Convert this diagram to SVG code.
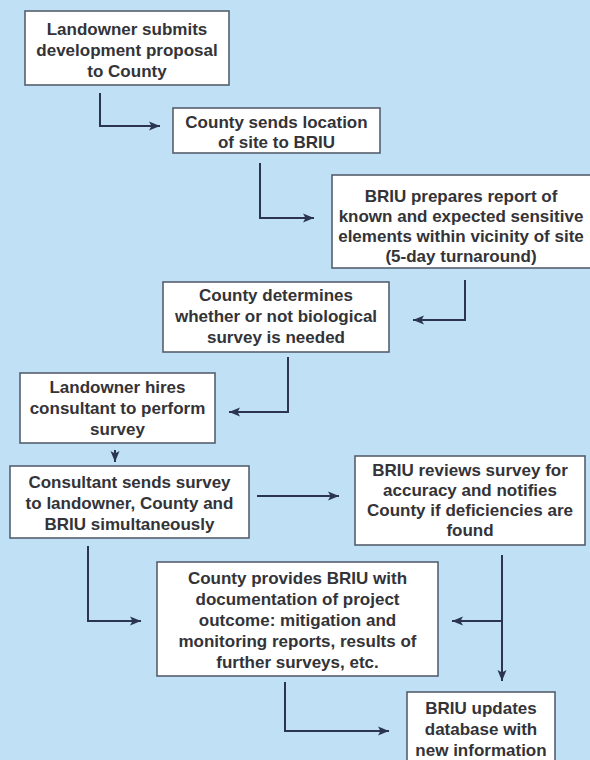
<svg xmlns="http://www.w3.org/2000/svg" width="590" height="760" viewBox="0 0 590 760">
<style>
.box{fill:#ffffff;stroke:#555f6e;stroke-width:1.6}
.t{font-family:"Liberation Sans",Arial,sans-serif;font-weight:bold;font-size:17px;fill:#333338;text-anchor:middle}
.c{fill:none;stroke:#2b3552;stroke-width:2}
</style>
<defs>
<marker id="ah" markerUnits="userSpaceOnUse" markerWidth="12" markerHeight="10" refX="11" refY="5" orient="auto">
<path d="M0,0.5 L11,5 L0,9.5 L2.5,5 z" fill="#2b3552"/>
</marker>
</defs>
<rect width="590" height="760" fill="#bfe0f5"/>
<g id="connectors">
<path class="c" d="M100,93 V126 H160" marker-end="url(#ah)"/>
<path class="c" d="M260,163 V218 H314" marker-end="url(#ah)"/>
<path class="c" d="M465,280 V320 H413" marker-end="url(#ah)"/>
<path class="c" d="M288,357 V412 H229" marker-end="url(#ah)"/>
<path class="c" d="M115,450 V462" marker-end="url(#ah)"/>
<path class="c" d="M257,496 H339" marker-end="url(#ah)"/>
<path class="c" d="M88,546 V621 H141" marker-end="url(#ah)"/>
<path class="c" d="M502,555 V681" marker-end="url(#ah)"/>
<path class="c" d="M502,621 H452" marker-end="url(#ah)"/>
<path class="c" d="M285,682 V731 H389" marker-end="url(#ah)"/>
</g>
<g id="n1">
<rect class="box" x="25" y="11" width="204" height="74"/>
<text class="t" x="127" y="35">Landowner submits</text>
<text class="t" x="127" y="56">development proposal</text>
<text class="t" x="127" y="77">to County</text>
</g>
<g id="n2">
<rect class="box" x="173" y="108" width="207" height="45"/>
<text class="t" x="276.5" y="128">County sends location</text>
<text class="t" x="276.5" y="148">of site to BRIU</text>
</g>
<g id="n3">
<rect class="box" x="332" y="175" width="262" height="93"/>
<text class="t" x="461" y="202">BRIU prepares report of</text>
<text class="t" x="461" y="222">known and expected sensitive</text>
<text class="t" x="461" y="242">elements within vicinity of site</text>
<text class="t" x="461" y="262">(5-day turnaround)</text>
</g>
<g id="n4">
<rect class="box" x="163" y="282" width="226" height="70"/>
<text class="t" x="276" y="301">County determines</text>
<text class="t" x="276" y="322">whether or not biological</text>
<text class="t" x="276" y="343">survey is needed</text>
</g>
<g id="n5">
<rect class="box" x="20" y="373" width="195" height="70"/>
<text class="t" x="117.5" y="393">Landowner hires</text>
<text class="t" x="117.5" y="414">consultant to perform</text>
<text class="t" x="117.5" y="435">survey</text>
</g>
<g id="n6">
<rect class="box" x="10" y="466" width="239" height="72"/>
<text class="t" x="129.5" y="488">Consultant sends survey</text>
<text class="t" x="129.5" y="509">to landowner, County and</text>
<text class="t" x="129.5" y="530">BRIU simultaneously</text>
</g>
<g id="n7">
<rect class="box" x="355" y="456" width="230" height="89"/>
<text class="t" x="470" y="476">BRIU reviews survey for</text>
<text class="t" x="470" y="496">accuracy and notifies</text>
<text class="t" x="470" y="516">County if deficiencies are</text>
<text class="t" x="470" y="536">found</text>
</g>
<g id="n8">
<rect class="box" x="157" y="562" width="281" height="114"/>
<text class="t" x="297.5" y="584">County provides BRIU with</text>
<text class="t" x="297.5" y="605">documentation of project</text>
<text class="t" x="297.5" y="626">outcome: mitigation and</text>
<text class="t" x="297.5" y="647">monitoring reports, results of</text>
<text class="t" x="297.5" y="668">further surveys, etc.</text>
</g>
<g id="n9">
<rect class="box" x="407" y="692" width="148" height="80"/>
<text class="t" x="481" y="714">BRIU updates</text>
<text class="t" x="481" y="735">database with</text>
<text class="t" x="481" y="756">new information</text>
</g>
</svg>
